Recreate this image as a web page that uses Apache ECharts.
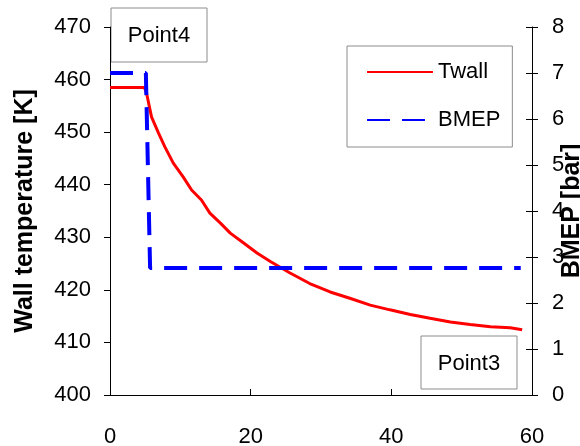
<!DOCTYPE html>
<html lang="en">
<head>
<meta charset="utf-8">
<script src="https://cdn.jsdelivr.net/npm/echarts@6/dist/echarts.min.js"></script>
<style>
  html, body { margin: 0; padding: 0; background: #fff; }
  #main { width: 580px; height: 446px; }
</style>
</head>
<body>
<div id="main"></div>
<script type="text/javascript">
    // wall temperature
    var twallTime = [0, 4.9, 5.2, 5.9, 6.9, 7.8, 9.0, 10.4, 11.6, 13.0, 14.2, 15.7, 17.1, 19.0, 20.9, 22.8,
                     25.6, 28.4, 31.3, 34.1, 37.0, 39.8, 42.7, 45.5, 48.4, 51.2, 54.1, 56.9, 58.6];
    var twallTemp = [458.5, 458.5, 457.4, 452.9, 449.8, 447.2, 444.1, 441.5, 439.0, 437.1, 434.6, 432.7, 430.8, 428.9, 427.0, 425.4,
                     423.2, 421.2, 419.6, 418.4, 417.1, 416.2, 415.3, 414.6, 413.9, 413.4, 413.0, 412.8, 412.4];

    // BMEP step
    var bmepTime = [0, 5.1, 5.7, 58.4];
    var bmepVal = [7.0, 7.0, 2.76, 2.76];

    var xTicks = [0, 20, 40, 60];
    var seriesNames = ['Twall', 'BMEP'];

    var font = '"Liberation Sans", Arial, sans-serif';

    function pairs(xs, ys) {
        var out = [];
        for (var i = 0; i < xs.length; i++) out.push([xs[i], ys[i]]);
        return out;
    }

    function noteBox(x, y, w, h, label) {
        return {
            type: 'group',
            z: 100,
            children: [
                { type: 'rect', shape: { x: x, y: y, width: w, height: h },
                  style: { fill: '#fff', stroke: '#8c8c8c', lineWidth: 1 } },
                { type: 'text', style: { text: label, x: x + w / 2, y: y + h / 2 + 1,
                  align: 'center', verticalAlign: 'middle', fill: '#000',
                  font: '22px ' + font } }
            ]
        };
    }

    var myChart = echarts.init(document.getElementById('main'));

    var option = {
        animation: false,
        backgroundColor: '#fff',
        textStyle: { fontFamily: font },
        grid: { left: 110, right: 48, top: 27, bottom: 51, containLabel: false, outerBoundsMode: 'none' },
        legend: {
            orient: 'vertical',
            left: 347,
            top: 46,
            data: seriesNames,
            itemWidth: 66,
            itemHeight: 14,
            itemGap: 24,
            padding: [14, 12, 15, 19],
            borderColor: '#8c8c8c',
            borderWidth: 1,
            backgroundColor: '#fff',
            itemStyle: { opacity: 0 },
            textStyle: { fontSize: 22, color: '#000', fontFamily: font, lineHeight: 24 }
        },
        xAxis: {
            type: 'value',
            min: xTicks[0],
            max: xTicks[xTicks.length - 1],
            interval: 20,
            splitLine: { show: false },
            axisLine: { lineStyle: { color: '#000', width: 1 } },
            axisTick: { inside: true, length: 6, lineStyle: { color: '#000' } },
            axisLabel: { color: '#000', fontSize: 22, margin: 31, fontFamily: font }
        },
        yAxis: [
            {
                type: 'value',
                min: 400,
                max: 470,
                interval: 10,
                position: 'left',
                name: 'Wall temperature [K]',
                nameLocation: 'middle',
                nameGap: 72,
                nameMoveOverlap: false,
                nameTextStyle: { fontSize: 25, fontWeight: 'bold', color: '#000', fontFamily: font },
                splitLine: { show: false },
                axisLine: { show: true, lineStyle: { color: '#000', width: 1 } },
                axisTick: { show: true, length: 6, lineStyle: { color: '#000' } },
                axisLabel: { color: '#000', fontSize: 22, margin: 19, fontFamily: font }
            },
            {
                type: 'value',
                min: 0,
                max: 8,
                interval: 1,
                position: 'right',
                name: 'BMEP [bar]',
                nameLocation: 'middle',
                nameGap: 28,
                nameMoveOverlap: false,
                nameTextStyle: { fontSize: 25, fontWeight: 'bold', color: '#000', fontFamily: font },
                splitLine: { show: false },
                axisLine: { show: true, lineStyle: { color: '#000', width: 1 } },
                axisTick: { show: true, length: 6, lineStyle: { color: '#000' } },
                axisLabel: { color: '#000', fontSize: 22, margin: 20, fontFamily: font }
            },
            {
                // inner half of the crossing ticks on the right axis
                type: 'value',
                min: 0,
                max: 8,
                interval: 1,
                position: 'right',
                splitLine: { show: false },
                axisLine: { show: false },
                axisTick: { show: true, inside: true, length: 6, lineStyle: { color: '#000' } },
                axisLabel: { show: false }
            }
        ],
        graphic: [
            noteBox(111, 8, 96, 54, 'Point4'),
            noteBox(421, 336, 96, 53, 'Point3')
        ],
        series: [
            {
                name: seriesNames[0],
                type: 'line',
                yAxisIndex: 0,
                symbol: 'none',
                showSymbol: false,
                lineStyle: { color: '#ff0000', width: 3 },
                itemStyle: { color: '#ff0000' },
                data: pairs(twallTime, twallTemp)
            },
            {
                name: seriesNames[1],
                type: 'line',
                yAxisIndex: 1,
                symbol: 'none',
                showSymbol: false,
                lineStyle: { color: '#0000ff', width: 4, type: [23, 12] },
                itemStyle: { color: '#0000ff' },
                data: pairs(bmepTime, bmepVal)
            }
        ]
    };

    myChart.setOption(option);
</script>
</body>
</html>
